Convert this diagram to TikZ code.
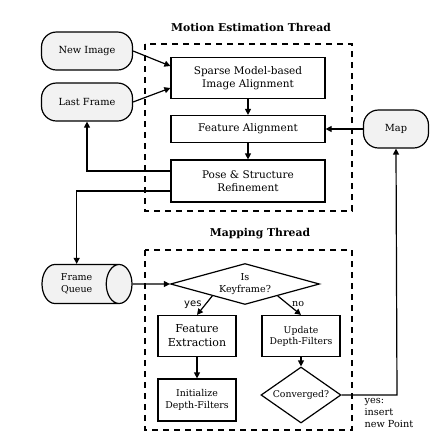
\documentclass[tikz,border=0pt]{standalone}
\usepackage{fontspec}
\setmainfont{DejaVu Serif}
\setsansfont{DejaVu Sans}
\usetikzlibrary{shapes.geometric,arrows.meta}
\definecolor{termgray}{HTML}{F2F2F2}
\begin{document}
\begin{tikzpicture}
    [ x=1pt, y=-1pt
    , line width=1.2pt
    , >={Triangle[length=6pt,width=6pt]}
    , terminal/.style={draw, fill=termgray, rounded corners=15pt, minimum width=91pt, minimum height=38pt, font=\fontsize{9.8}{12}\selectfont}
    , procbox/.style={draw, minimum width=154pt, align=center, font=\fontsize{10.5}{13}\selectfont}
    , mapbox/.style={draw, minimum width=78pt, minimum height=41pt, align=center}
    , decision/.style={draw, diamond, inner sep=1pt, align=center, font=\fontsize{9.6}{12}\selectfont}
    , threadbox/.style={draw, dash pattern=on 6pt off 5pt}
    , threadtitle/.style={font=\bfseries\fontsize{10.8}{13}\selectfont}
    , edgelabel/.style={font=\fontsize{9.6}{11}\selectfont}
    ]
\useasboundingbox (0,0) rectangle (430,432);
% thread frames
\draw[threadbox] (145,44) rectangle (352,211);
\draw[threadbox] (145,250) rectangle (352,430);
\node[threadtitle] (motiontitle) at (251,27) {Motion Estimation Thread};
\node[threadtitle] (mappingtitle) at (260,234) {Mapping Thread};
% motion estimation
\node[terminal] (newimage) at (87,51) {New Image};
\node[terminal] (lastframe) at (87,102) {Last Frame};
\node[terminal, minimum width=65pt] (map) at (396,129) {Map};
\node[procbox, minimum height=41pt] (sparse) at (248,78) {Sparse Model-based\\Image Alignment};
\node[procbox, minimum height=27pt] (featalign) at (248,129) {Feature Alignment};
\node[procbox, minimum height=42pt] (pose) at (248,181) {Pose \& Structure\\Refinement};
% mapping
\node[draw, cylinder, anchor=shape center, fill=termgray, aspect=0.95, minimum width=39pt, minimum height=90pt, align=center, font=\fontsize{9.5}{12}\selectfont] (queue) at (87,284) {Frame\\Queue};
\node[decision, aspect=3.6, minimum width=149pt, minimum height=41pt] (keyframe) at (245,284) {Is\\Keyframe?};
\node[mapbox, font=\fontsize{11}{14}\selectfont] (extract) at (197,336) {Feature\\Extraction};
\node[mapbox, minimum height=42pt, font=\fontsize{9.4}{12}\selectfont] (init) at (197,400) {Initialize\\Depth-Filters};
\node[mapbox, font=\fontsize{9.3}{11}\selectfont] (update) at (301,336) {Update\\Depth-Filters};
\node[decision, aspect=1.43, minimum width=80pt, minimum height=56pt, font=\fontsize{9.3}{12}\selectfont] (converged) at (301,395) {Converged?};
\coordinate (turn) at (397,395);
% connectors
\draw[->] (newimage.east) -- (sparse.west |- 0,66);
\draw[->] (lastframe.east) -- (sparse.west |- 0,88);
\draw[->] (sparse) -- (featalign);
\draw[->] (featalign) -- (pose);
\draw[->] (map) -- (featalign);
\draw[->] (pose.west |- 0,171) -| (lastframe.south);
\draw[->] (pose.west |- 0,191) -| (queue.north);
\draw[->] (queue.east) -- (keyframe.west);
\draw[->] (keyframe.-160) -- node[left, pos=0.45, edgelabel, font=\sffamily]{yes} (extract.north);
\draw[->] (keyframe.-20) -- node[right, pos=0.45, edgelabel]{no} (update.north);
\draw[->] (extract) -- (init);
\draw[->] (update) -- (converged);
\draw[->] (converged.east) -- (turn) -- (map.south);
\node[anchor=north west, align=left, inner sep=0pt, font=\fontsize{9.7}{12}\selectfont] (insertlabel) at (364,398) {yes:\\insert\\new Point};
\end{tikzpicture}
\end{document}
